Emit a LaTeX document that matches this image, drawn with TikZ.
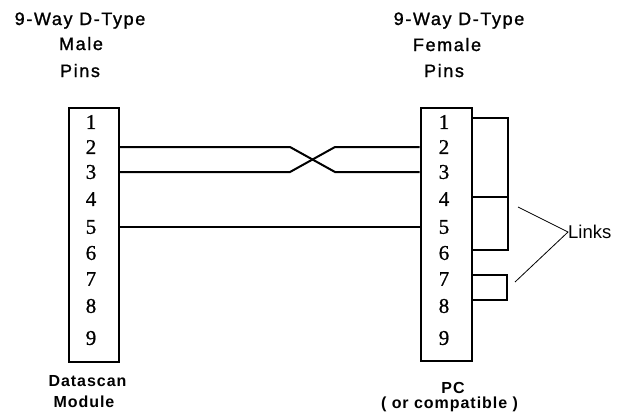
\documentclass[tikz,border=0pt]{standalone}
\usepackage{fontspec}
\setmainfont{Liberation Sans}
\newfontfamily\pinfont[FakeBold=0.8]{Liberation Serif}
\newfontfamily\titlefont[FakeBold=1.2,LetterSpace=9]{Liberation Sans}
\newfontfamily\capfont[LetterSpace=6]{Liberation Sans}
\begin{document}
\begin{tikzpicture}[x=1pt,y=-1pt,
  title/.style={font=\fontsize{18}{20}\titlefont, anchor=base, inner sep=0pt},
  caption/.style={font=\fontsize{16}{18}\capfont\bfseries, anchor=base, inner sep=0pt},
  pin/.style={font=\fontsize{21}{22}\pinfont, inner sep=0pt},
  conn/.style={draw, line width=2pt, rectangle, inner sep=0pt},
  wire/.style={line width=2pt},
  thin/.style={line width=0.8pt}]
\useasboundingbox (0,0) rectangle (620,416);
% titles
\node[title] (tl1) at (80,25) {9-Way D-Type};
\node[title] (tl2) at (81,50) {Male};
\node[title] (tl3) at (80,77) {Pins};
\node[title] (tr1) at (459,25) {9-Way D-Type};
\node[title] (tr2) at (447,51) {Female};
\node[title] (tr3) at (444,77) {Pins};
% connectors
\node[conn, minimum width=50pt, minimum height=254pt] (L) at (93.5,234.5) {};
\node[conn, minimum width=51pt, minimum height=253pt] (R) at (446,234) {};
% pins
\foreach \n/\y in {1/122,2/147,3/172,4/199,5/227,6/253,7/279,8/306,9/338}{
  \node[pin] (l\n) at (91,\y) {\n};
  \node[pin] (r\n) at (444,\y) {\n};
}
% captions
\node[caption] (cl1) at (87.5,386) {Datascan};
\node[caption] (cl2) at (84,407) {Module};
\node[caption] (cr1) at (453,393) {PC};
\node[caption] (cr2) at (449.5,408) {( or compatible )};
% crossed wires
\coordinate (a1) at (290,147);
\coordinate (a2) at (335,172);
\coordinate (b1) at (290,172);
\coordinate (b2) at (335,147);
\draw[wire] (L.east |- l2) -- (a1) -- (a2) -- (R.west |- r3);
\draw[wire] (L.east |- l3) -- (b1) -- (b2) -- (R.west |- r2);
\draw[wire] (L.east |- l5) -- (R.west |- r5);
% links on female side
\coordinate (k1) at (472,118);
\coordinate (k2) at (508,118);
\coordinate (k3) at (508,250);
\coordinate (k4) at (472,250);
\coordinate (k5) at (472,197);
\coordinate (k6) at (508,197);
\draw[wire] (R.east |- k1) -- (k2) -- (k3) -- (R.east |- k4);
\draw[wire] (R.east |- k5) -- (k6);
\coordinate (m1) at (472,275);
\coordinate (m2) at (507,275);
\coordinate (m3) at (507,300);
\coordinate (m4) at (472,300);
\draw[wire] (R.east |- m1) -- (m2) -- (m3) -- (R.east |- m4);
% Links label
\node[font=\fontsize{18.5}{20}\selectfont, anchor=west, inner sep=0pt] (lk) at (568,232) {Links};
\coordinate (p1) at (518,207);
\coordinate (p2) at (515,282);
\draw[thin] (p1) -- (lk.west) -- (p2);
\end{tikzpicture}
\end{document}
